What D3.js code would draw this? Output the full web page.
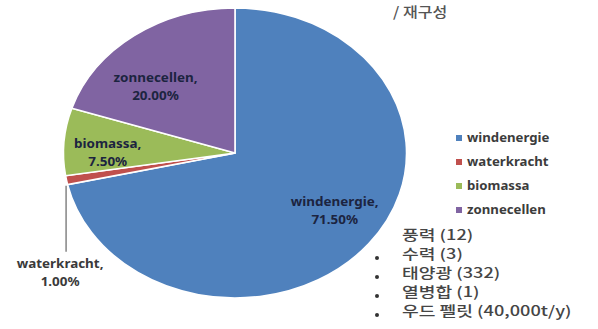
<!DOCTYPE html>
<html>
<head>
<meta charset="utf-8">
<script src="https://cdn.jsdelivr.net/npm/d3@7"></script>
<style>
  html, body { margin: 0; padding: 0; background: #ffffff; }
  svg { display: block; }
</style>
</head>
<body>
<svg id="chart" width="598" height="329"></svg>
<script>
// Share of renewable sources (percent)
const categories = ["windenergie", "waterkracht", "biomassa", "zonnecellen"];
const shares = [71.5, 1.0, 7.5, 20.0];
const shareLabels = ["71.50%", "1.00%", "7.50%", "20.00%"];
const colors = ["#4f81bd", "#c0504d", "#9bbb59", "#8064a2"];

// Installations listed next to the chart
const notes = ["풍력 (12)", "수력 (3)", "태양광 (332)", "열병합 (1)", "우드 펠릿 (40,000t/y)"];
const subtitle = "/ 재구성";

const cx = 235, cy = 153;
const R = 145;          // vertical radius
const sx = 1.183;       // horizontal stretch of the pie

const svg = d3.select("#chart");

const pie = d3.pie().sort(null).value(d => d.value);
const arcs = pie(categories.map((c, i) => ({ name: c, value: shares[i], label: shareLabels[i], color: colors[i] })));

const arc = d3.arc().innerRadius(0).outerRadius(R);

// Pie slices
const pieG = svg.append("g").attr("transform", `translate(${cx},${cy}) scale(${sx},1)`);
pieG.selectAll("path")
  .data(arcs)
  .join("path")
  .attr("d", arc)
  .attr("fill", d => d.data.color)
  .attr("stroke", "#ffffff")
  .attr("stroke-width", 1.6)
  .attr("vector-effect", "non-scaling-stroke");

// Label placement: radius factor and nudges for each slice
const labelLayout = {
  windenergie: { r: 0.70, dx: 6, dy: -6, inside: true },
  waterkracht: { r: 0, dx: 0, dy: 0, inside: false },
  biomassa:    { r: 0.75, dx: 1, dy: 8, inside: true },
  zonnecellen: { r: 0.66, dx: -13, dy: 10, inside: true }
};

const toScreen = (angle, rr) => [cx + sx * rr * Math.sin(angle), cy - rr * Math.cos(angle)];

const labelFont = "'Noto Sans', 'Liberation Sans', Arial, sans-serif";
const labelG = svg.append("g")
  .attr("font-family", labelFont)
  .attr("font-weight", "bold")
  .attr("font-size", 12);

arcs.forEach(d => {
  const lay = labelLayout[d.data.name];
  const mid = (d.startAngle + d.endAngle) / 2;
  let x, y, fill;
  if (lay.inside) {
    [x, y] = toScreen(mid, R * lay.r);
    x += lay.dx; y += lay.dy;
    fill = "#1c2440";
  } else {
    // leader line dropping from the slice edge
    const [ex, ey] = toScreen(d.startAngle, R);
    const lx = ex - 1.5;
    labelG.append("line")
      .attr("x1", lx).attr("y1", ey + 1)
      .attr("x2", lx).attr("y2", ey + 67)
      .attr("stroke", "#8c8c8c").attr("stroke-width", 1.6);
    x = lx - 6; y = ey + 87;
    fill = "#3a3a3a";
  }
  const t = labelG.append("text")
    .attr("text-anchor", "middle")
    .attr("fill", fill)
    .attr("transform", `translate(${x},${y}) scale(1.12,1)`);
  t.append("tspan").attr("x", 0).attr("y", -4).text(d.data.name + ",");
  t.append("tspan").attr("x", 0).attr("y", 14).text(d.data.label);
});

// Legend
const legend = svg.append("g")
  .attr("font-family", labelFont)
  .attr("font-weight", "bold")
  .attr("font-size", 12);
const legY = d3.scalePoint().domain(categories).range([138, 210]);
categories.forEach((c, i) => {
  const g = legend.append("g").attr("transform", `translate(456,${legY(c)})`);
  g.append("rect").attr("x", 0).attr("y", -3).attr("width", 6).attr("height", 6).attr("fill", colors[i]);
  g.append("text").attr("x", 0).attr("y", 4).attr("fill", "#3c3c3c")
    .attr("transform", "translate(11,0) scale(1.1,1)").text(c);
});

// Notes list
const notesG = svg.append("g")
  .attr("font-family", "'Noto Sans CJK KR', sans-serif")
  .attr("font-size", 14)
  .attr("font-weight", 500)
  .attr("fill", "#454545");
const rowY = d3.scalePoint().domain(d3.range(notes.length)).range([235, 311]);
notes.forEach((n, i) => {
  notesG.append("text")
    .attr("transform", `translate(402,${rowY(i) + 5}) scale(1.3,1)`)
    .text(n);
  if (i > 0) {
    notesG.append("circle").attr("cx", 377).attr("cy", rowY(i) + 4).attr("r", 2).attr("fill", "#333");
  }
});

// Subtitle at the top edge
svg.append("text")
  .attr("x", 393).attr("y", 17)
  .attr("font-family", "'Noto Sans CJK KR', sans-serif")
  .attr("font-size", 14)
  .attr("font-weight", 500)
  .attr("fill", "#555")
  .attr("transform", "translate(393,0) scale(1.15,1) translate(-393,0)")
  .text(subtitle);
</script>
</body>
</html>
